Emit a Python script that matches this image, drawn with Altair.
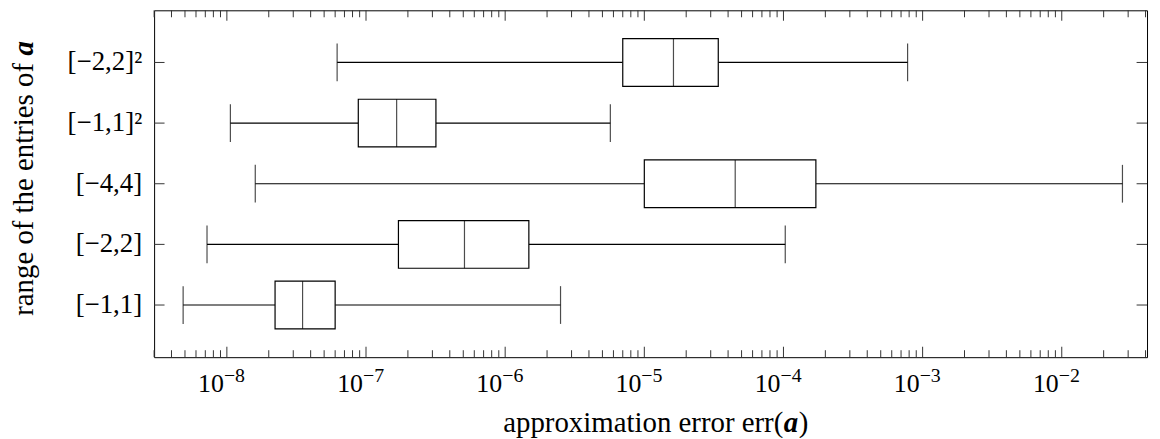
import altair as alt
import pandas as pd

# ---- data ----
categories = ["[−2,2]²", "[−1,1]²", "[−4,4]", "[−2,2]", "[−1,1]"]
lower = [6.2e-8, 1.06e-8, 1.60e-8, 7.2e-9, 4.85e-9]
q1 = [7.0e-6, 8.8e-8, 1.0e-5, 1.71e-7, 2.22e-8]
median = [1.62e-5, 1.66e-7, 4.5e-5, 5.1e-7, 3.5e-8]
q3 = [3.4e-5, 3.18e-7, 1.71e-4, 1.48e-6, 6.0e-8]
upper = [7.8e-4, 5.7e-6, 2.73e-2, 1.03e-4, 2.5e-6]

major_ticks = [1e-8, 1e-7, 1e-6, 1e-5, 1e-4, 1e-3, 1e-2]
major_base = ["10"] * 7
major_exp = ["−8", "−7", "−6", "−5", "−4", "−3", "−2"]
minor_mantissas = [2, 3, 4, 5, 6, 7, 8, 9]
minor_decades = [1e-9, 1e-8, 1e-7, 1e-6, 1e-5, 1e-4, 1e-3, 1e-2]
x_domain = [3e-9, 0.041]

x_title_parts = ["approximation error err(", "a", ")"]
y_title_parts = ["range of the entries of", "a"]

# ---- layout ----
W, H = 999, 349
FONT = "Liberation Serif, DejaVu Serif, serif"
TICK_C = "#333"
MAJ, MIN = 10.5, 7
LW = 1.2
TS = 29  # title font size

minor_ticks = [m * d for d in minor_decades for m in minor_mantissas
               if x_domain[0] <= m * d <= x_domain[1]]

box_df = pd.DataFrame(dict(cat=categories, lo=lower, q1=q1, med=median, q3=q3, hi=upper))
major_df = pd.DataFrame(dict(v=major_ticks, base=major_base, exp=major_exp))
minor_df = pd.DataFrame(dict(v=minor_ticks))

xscale = alt.Scale(type="log", domain=x_domain, nice=False)
yscale = alt.Scale(type="band", domain=categories, paddingInner=0, paddingOuter=0.36)
Y = alt.Y("cat:N", scale=yscale, axis=None)


def X(field):
    return alt.X(field, type="quantitative", scale=xscale, axis=None)


base = alt.Chart(box_df)

whisk_l = base.mark_rule(color="black", strokeWidth=LW).encode(x=X("lo"), x2="q1", y=Y)
whisk_r = base.mark_rule(color="black", strokeWidth=LW).encode(x=X("q3"), x2="hi", y=Y)
cap_l = base.mark_tick(color="black", size=38, thickness=LW).encode(x=X("lo"), y=Y)
cap_r = base.mark_tick(color="black", size=38, thickness=LW).encode(x=X("hi"), y=Y)
box = base.mark_bar(fill="white", stroke="black", strokeWidth=LW, size=48).encode(
    x=X("q1"), x2="q3", y=Y)
med = base.mark_tick(color="black", size=48, thickness=LW).encode(x=X("med"), y=Y)

# inward ticks on all four sides
bt_major = alt.Chart(major_df).mark_rule(color=TICK_C, strokeWidth=1).encode(
    x=X("v"), y=alt.value(H), y2=alt.value(H - MAJ))
bt_minor = alt.Chart(minor_df).mark_rule(color=TICK_C, strokeWidth=1).encode(
    x=X("v"), y=alt.value(H), y2=alt.value(H - MIN))
tp_major = alt.Chart(major_df).mark_rule(color=TICK_C, strokeWidth=1).encode(
    x=X("v"), y=alt.value(0), y2=alt.value(MAJ))
tp_minor = alt.Chart(minor_df).mark_rule(color=TICK_C, strokeWidth=1).encode(
    x=X("v"), y=alt.value(0), y2=alt.value(MIN))
yl_ticks = base.mark_rule(color=TICK_C, strokeWidth=1).encode(
    y=Y, x=alt.value(0), x2=alt.value(MAJ))
yr_ticks = base.mark_rule(color=TICK_C, strokeWidth=1).encode(
    y=Y, x=alt.value(W), x2=alt.value(W - MAJ))

# labels
cat_labels = base.mark_text(align="right", baseline="middle", font=FONT, fontSize=27,
                            color="black").encode(y=Y, x=alt.value(-12), text="cat:N")
lab_base = alt.Chart(major_df).mark_text(align="right", baseline="alphabetic", font=FONT,
                                         fontSize=26, dx=-3, color="black").encode(
    x=X("v"), y=alt.value(H + 35.5), text="base:N")
lab_exp = alt.Chart(major_df).mark_text(align="left", baseline="alphabetic", font=FONT,
                                        fontSize=20, dx=-3, color="black").encode(
    x=X("v"), y=alt.value(H + 24.5), text="exp:N")

# x title: plain part, bold-italic a, closing paren
XA = 633  # anchor where the bold italic "a" starts
xt1 = alt.Chart(pd.DataFrame({"t": [x_title_parts[0]]})).mark_text(
    align="right", baseline="alphabetic", font=FONT, fontSize=TS, color="black").encode(
    x=alt.value(XA), y=alt.value(H + 75.5), text="t:N")
xt2 = alt.Chart(pd.DataFrame({"t": [x_title_parts[1]]})).mark_text(
    align="left", baseline="alphabetic", font=FONT, fontSize=TS, fontStyle="italic",
    fontWeight="bold", color="black").encode(
    x=alt.value(XA + 0.5), y=alt.value(H + 75.5), text="t:N")
xt3 = alt.Chart(pd.DataFrame({"t": [x_title_parts[2]]})).mark_text(
    align="left", baseline="alphabetic", font=FONT, fontSize=TS, color="black").encode(
    x=alt.value(XA + 15.5), y=alt.value(H + 75.5), text="t:N")

# y title (rotated): plain part ends at YA, bold-italic a continues upward after a space
YA = 53
yt1 = alt.Chart(pd.DataFrame({"t": [y_title_parts[0]]})).mark_text(
    align="right", baseline="alphabetic", angle=270, font=FONT, fontSize=TS,
    color="black").encode(x=alt.value(-122), y=alt.value(YA), text="t:N")
yt2 = alt.Chart(pd.DataFrame({"t": [y_title_parts[1]]})).mark_text(
    align="left", baseline="alphabetic", angle=270, font=FONT, fontSize=TS,
    fontStyle="italic", fontWeight="bold", color="black").encode(
    x=alt.value(-122), y=alt.value(YA - 7.5), text="t:N")

chart = alt.layer(
    whisk_l, whisk_r, box, med, cap_l, cap_r,
    bt_major, bt_minor, tp_major, tp_minor, yl_ticks, yr_ticks,
    cat_labels, lab_base, lab_exp, xt1, xt2, xt3, yt1, yt2,
).properties(
    width=W, height=H,
    autosize=alt.AutoSizeParams(type="none"),
    padding={"left": 147, "top": 1, "right": 5, "bottom": 80},
).configure_view(stroke="black", strokeWidth=1)

chart.save("out.html", embed_options={"renderer": "svg", "actions": False})
